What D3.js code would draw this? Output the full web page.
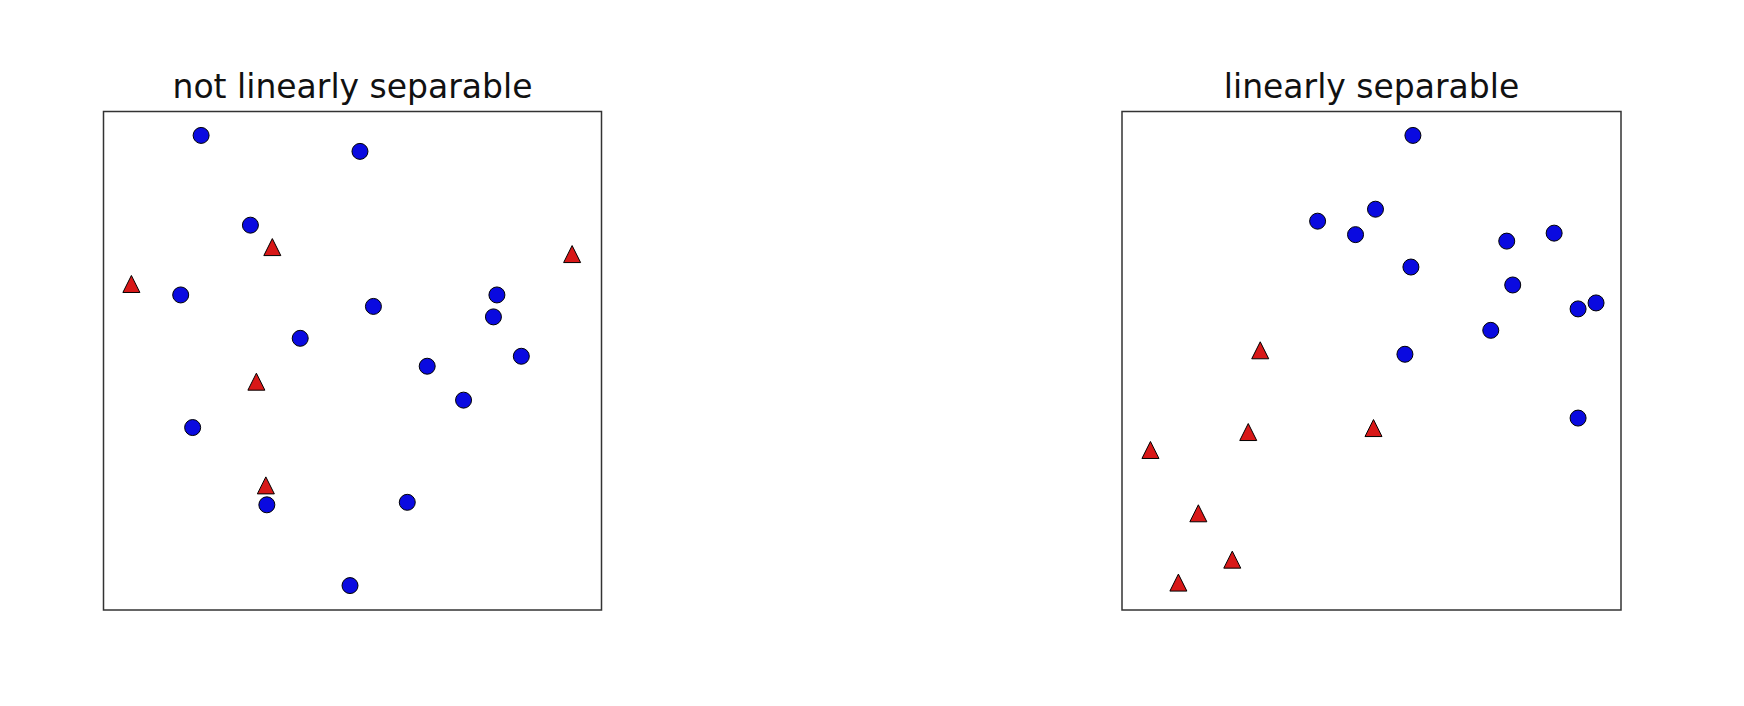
<!DOCTYPE html>
<html>
<head>
<meta charset="utf-8">
<script src="https://cdn.jsdelivr.net/npm/d3@7"></script>
<style>
  html, body { margin: 0; padding: 0; background: #fff; }
  svg { display: block; }
</style>
</head>
<body>
<svg id="chart" width="1744" height="706"></svg>
<script>
// ---- data (unit coordinates, y up) ----
const panelTitles = ["not linearly separable", "linearly separable"];

const leftBlueX = [0.196, 0.515, 0.295, 0.155, 0.542, 0.790, 0.783, 0.395, 0.839, 0.650, 0.723, 0.179, 0.328, 0.610, 0.495];
const leftBlueY = [0.952, 0.920, 0.772, 0.632, 0.609, 0.632, 0.588, 0.545, 0.509, 0.489, 0.421, 0.366, 0.211, 0.216, 0.049];
const leftRedX  = [0.339, 0.941, 0.056, 0.307, 0.326];
const leftRedY  = [0.728, 0.714, 0.654, 0.458, 0.250];

const rightBlueX = [0.583, 0.508, 0.392, 0.468, 0.866, 0.771, 0.579, 0.783, 0.950, 0.914, 0.739, 0.567, 0.914];
const rightBlueY = [0.952, 0.804, 0.780, 0.753, 0.756, 0.740, 0.688, 0.652, 0.616, 0.604, 0.561, 0.513, 0.385];
const rightRedX  = [0.277, 0.253, 0.504, 0.057, 0.153, 0.221, 0.113];
const rightRedY  = [0.521, 0.357, 0.365, 0.321, 0.194, 0.101, 0.055];

const xDomain = [0, 1];
const yDomain = [0, 1];

// ---- layout ----
const svg = d3.select("#chart");
const panels = [
  { left: 103.5, top: 111.5, width: 498, height: 498.5, title: panelTitles[0],
    blue: leftBlueX.map((x, i) => [x, leftBlueY[i]]),
    red: leftRedX.map((x, i) => [x, leftRedY[i]]) },
  { left: 1122, top: 111.5, width: 499, height: 498.5, title: panelTitles[1],
    blue: rightBlueX.map((x, i) => [x, rightBlueY[i]]),
    red: rightRedX.map((x, i) => [x, rightRedY[i]]) }
];

const blueFill = "#0a0ae0";
const redFill = "#d81818";
const triHalf = 8.5;
const triPath = `M0,${-triHalf}L${triHalf},${triHalf}L${-triHalf},${triHalf}Z`;

panels.forEach(p => {
  const x = d3.scaleLinear().domain(xDomain).range([p.left, p.left + p.width]);
  const y = d3.scaleLinear().domain(yDomain).range([p.top + p.height, p.top]);
  const g = svg.append("g");

  g.append("rect")
    .attr("x", p.left).attr("y", p.top)
    .attr("width", p.width).attr("height", p.height)
    .attr("fill", "#fff")
    .attr("stroke", "#333").attr("stroke-width", 1.5);

  g.append("text")
    .attr("x", p.left + p.width / 2)
    .attr("y", 98)
    .attr("text-anchor", "middle")
    .attr("font-family", "DejaVu Sans")
    .attr("font-size", 33)
    .attr("fill", "#111")
    .text(p.title);

  g.selectAll("circle.blue").data(p.blue).join("circle")
    .attr("class", "blue")
    .attr("cx", d => x(d[0])).attr("cy", d => y(d[1]))
    .attr("r", 8)
    .attr("fill", blueFill)
    .attr("stroke", "#000").attr("stroke-width", 1);

  g.selectAll("path.red").data(p.red).join("path")
    .attr("class", "red")
    .attr("d", triPath)
    .attr("transform", d => `translate(${x(d[0])},${y(d[1])})`)
    .attr("fill", redFill)
    .attr("stroke", "#000").attr("stroke-width", 1);
});
</script>
</body>
</html>
